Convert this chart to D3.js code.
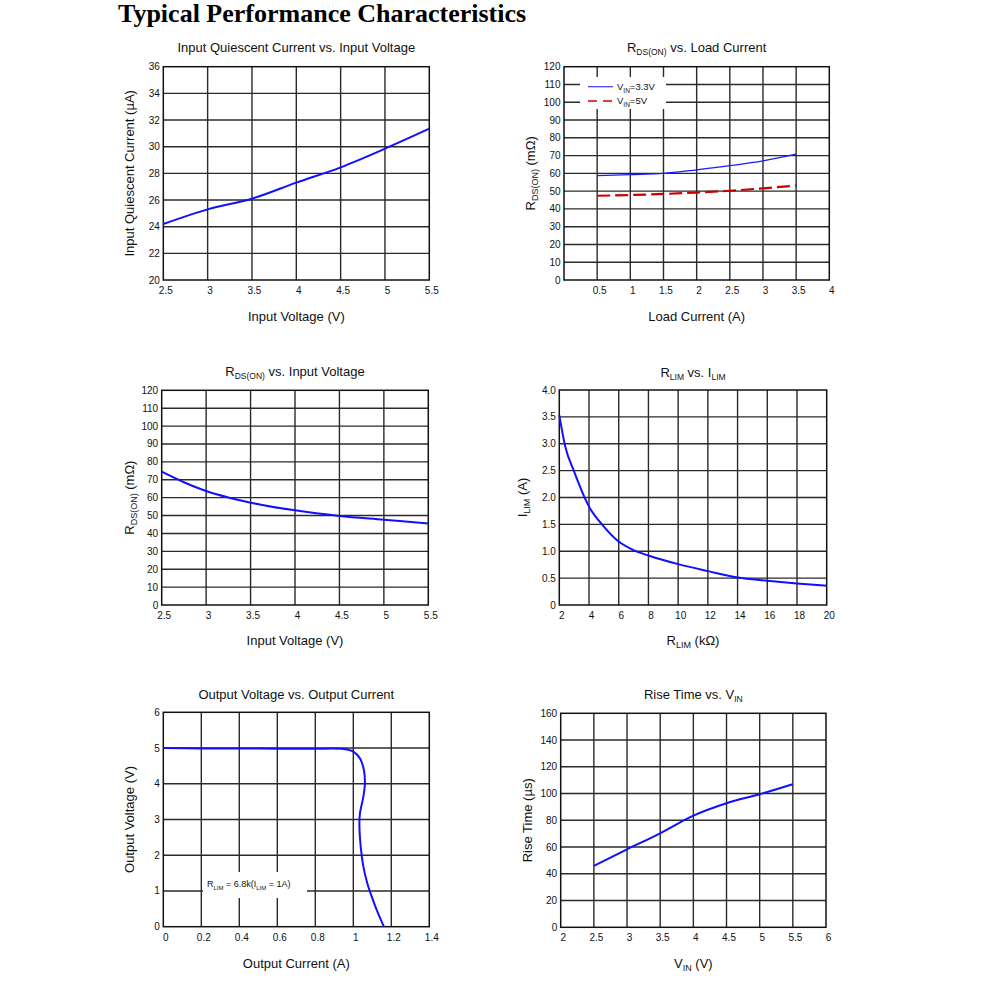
<!DOCTYPE html>
<html><head><meta charset="utf-8">
<script src="https://cdn.jsdelivr.net/npm/d3@7"></script>
<style>
body{margin:0;background:#fff}
svg{display:block}
text{font-family:"Liberation Sans",Arial,sans-serif;fill:#111}
</style>
</head><body>
<svg id="c" width="991" height="1006"></svg>
<script>
// ---------- data ----------
const iqVin = [2.5, 3, 3.5, 4, 4.5, 5, 5.5];
const iqCurrent = [24.2, 25.3, 26.1, 27.3, 28.45, 29.85, 31.35];
const iqXTicks = [2.5, 3, 3.5, 4, 4.5, 5, 5.5];
const iqYTicks = [20, 22, 24, 26, 28, 30, 32, 34, 36];

const loadCurrent = [0.5, 1, 1.5, 2, 2.5, 3, 3.5];
const rdsOn33V = [58.7, 59.3, 60, 62, 64.3, 67, 70.8];
const rdsOn5V = [47.4, 47.8, 48.4, 49.2, 50.2, 51.6, 53.1];
const loadXTicks = [0.5, 1, 1.5, 2, 2.5, 3, 3.5, 4];
const rdsYTicks = [0, 10, 20, 30, 40, 50, 60, 70, 80, 90, 100, 110, 120];

const rdsVin = [2.5, 2.75, 3, 3.25, 3.5, 4, 4.5, 5, 5.5];
const rdsVsVin = [74.5, 68.6, 63.7, 60.1, 57.2, 52.9, 49.8, 47.7, 45.6];
const vinXTicks = [2.5, 3, 3.5, 4, 4.5, 5, 5.5];

const rLim = [2, 2.4, 3, 4, 5, 6, 7, 8, 10, 12, 14, 16, 18, 20];
const iLim = [3.53, 2.95, 2.48, 1.83, 1.46, 1.18, 1.02, 0.92, 0.76, 0.63, 0.51, 0.45, 0.40, 0.36];
const rLimXTicks = [2, 4, 6, 8, 10, 12, 14, 16, 18, 20];
const iLimYTicks = [0, 0.5, 1, 1.5, 2, 2.5, 3, 3.5, 4];

const outCurrent = [0, 0.2, 0.4, 0.6, 0.8, 0.95, 1.0, 1.035, 1.056, 1.061, 1.053, 1.035, 1.032, 1.039, 1.053, 1.074, 1.097, 1.123, 1.161];
const outVoltage = [5.0, 4.99, 4.99, 4.98, 4.98, 4.97, 4.9, 4.71, 4.38, 4.01, 3.64, 3.17, 2.89, 2.24, 1.68, 1.21, 0.84, 0.47, 0.0];
const outXTicks = [0, 0.2, 0.4, 0.6, 0.8, 1, 1.2, 1.4];
const outYTicks = [0, 1, 2, 3, 4, 5, 6];

const riseVin = [2.5, 3, 3.5, 4, 4.5, 5, 5.5];
const riseTime = [45.9, 58.3, 70.3, 83.5, 92.8, 99.5, 107];
const riseXTicks = [2, 2.5, 3, 3.5, 4, 4.5, 5, 5.5, 6];
const riseYTicks = [0, 20, 40, 60, 80, 100, 120, 140, 160];

// ---------- drawing ----------
const svg = d3.select("#c");

svg.append("text")
  .attr("x", 118).attr("y", 22)
  .style("font-family", "'Liberation Serif','Times New Roman',serif")
  .style("font-weight", "bold").style("font-size", "26px")
  .style("fill", "#000")
  .text("Typical Performance Characteristics");

function rich(sel, parts, subSize) {
  parts.forEach((p, i) => {
    const prevSub = i > 0 && parts[i - 1][1];
    const t = sel.append("tspan").text(p[0]);
    if (p[1]) { t.attr("dy", 3).style("font-size", subSize + "px"); }
    else if (prevSub) { t.attr("dy", -3); }
  });
}

const fmtDefault = d => String(d);

function chart(cfg) {
  const g = svg.append("g");
  const x = d3.scaleLinear().domain(cfg.xd).range([cfg.l, cfg.r]);
  const y = d3.scaleLinear().domain(cfg.yd).range([cfg.b, cfg.t]);
  const fx = cfg.fx || fmtDefault, fy = cfg.fy || fmtDefault;

  // grid
  const gx = cfg.xt.filter(v => v > cfg.xd[0] && v < cfg.xd[1]);
  const gy = cfg.yt.filter(v => v > cfg.yd[0] && v < cfg.yd[1]);
  g.selectAll(".gx").data(gx).join("line")
    .attr("x1", d => x(d)).attr("x2", d => x(d)).attr("y1", cfg.t).attr("y2", cfg.b)
    .attr("stroke", "#2a2a2a").attr("stroke-width", 1.4);
  g.selectAll(".gy").data(gy).join("line")
    .attr("y1", d => y(d)).attr("y2", d => y(d)).attr("x1", cfg.l).attr("x2", cfg.r)
    .attr("stroke", "#2a2a2a").attr("stroke-width", 1.4);

  if (cfg.box) {
    g.append("rect").attr("x", cfg.box[0]).attr("y", cfg.box[1])
      .attr("width", cfg.box[2]).attr("height", cfg.box[3]).attr("fill", "#fff");
  }

  // frame
  g.append("rect").attr("x", cfg.l).attr("y", cfg.t)
    .attr("width", cfg.r - cfg.l).attr("height", cfg.b - cfg.t)
    .attr("fill", "none").attr("stroke", "#111").attr("stroke-width", 1.5);

  // tick labels
  g.selectAll(".tx").data(cfg.xt).join("text")
    .attr("x", d => x(d) + 2.5).attr("y", cfg.b + 10.5).attr("dy", "0.35em")
    .attr("text-anchor", "middle").style("font-size", "10px").text(fx);
  g.selectAll(".ty").data(cfg.yt).join("text")
    .attr("x", cfg.l - 3.5).attr("y", d => y(d)).attr("dy", "0.35em")
    .attr("text-anchor", "end").style("font-size", "10px").text(fy);

  // title
  const tt = g.append("text").attr("x", (cfg.l + cfg.r) / 2).attr("y", cfg.titleY + 4.5)
    .attr("text-anchor", "middle").style("font-size", "13px");
  rich(tt, cfg.title, 8.5);
  // x label
  const xl = g.append("text").attr("x", (cfg.l + cfg.r) / 2).attr("y", cfg.xlabelY + 4.6)
    .attr("text-anchor", "middle").style("font-size", "13px");
  rich(xl, cfg.xlabel, 9);
  // y label
  const cy = (cfg.t + cfg.b) / 2;
  const yl = g.append("text").attr("transform", `translate(${cfg.ylabelX + 4.6},${cy}) rotate(-90)`)
    .attr("text-anchor", "middle").style("font-size", "13px");
  rich(yl, cfg.ylabel, 9);

  // series
  cfg.series.forEach(s => {
    const line = d3.line().x((d, i) => x(s.xs[i])).y((d, i) => y(s.ys[i])).curve(s.curve || d3.curveMonotoneX);
    g.append("path").datum(s.ys).attr("d", line).attr("fill", "none")
      .attr("stroke", s.color).attr("stroke-width", s.width || 2)
      .attr("stroke-dasharray", s.dash || null);
  });
  return { g, x, y };
}

chart({
  l: 163.3, r: 429.3, t: 66.7, b: 280, xd: [2.5, 5.5], yd: [20, 36], xt: iqXTicks, yt: iqYTicks,
  titleY: 47.3, title: [["Input Quiescent Current vs. Input Voltage"]],
  xlabelY: 316, xlabel: [["Input Voltage (V)"]],
  ylabelX: 129, ylabel: [["Input Quiescent Current (µA)"]],
  series: [{ xs: iqVin, ys: iqCurrent, color: "#1010ff" }]
});

const c2 = chart({
  l: 564, r: 829.3, t: 66.7, b: 280, xd: [0, 4], yd: [0, 120], xt: loadXTicks, yt: rdsYTicks,
  titleY: 47.3, title: [["R"], ["DS(ON)", 1], [" vs. Load Current"]],
  xlabelY: 316, xlabel: [["Load Current (A)"]],
  ylabelX: 530, ylabel: [["R"], ["DS(ON)", 1], [" (mΩ)"]],
  box: [580, 77, 86, 32],
  series: [
    { xs: loadCurrent, ys: rdsOn33V, color: "#1a1aff", width: 1.3 },
    { xs: loadCurrent, ys: rdsOn5V, color: "#cc0000", width: 2.2, dash: "13,5" }
  ]
});
// legend
[{ c: "#3a3aff", w: 1.2, dash: null, y: 86.7, lab: "3.3V" }, { c: "#cc0000", w: 1.4, dash: "9,6", y: 101, lab: "5V" }]
  .forEach(L => {
    c2.g.append("line").attr("x1", 588).attr("x2", 613).attr("y1", L.y).attr("y2", L.y)
      .attr("stroke", L.c).attr("stroke-width", L.w).attr("stroke-dasharray", L.dash);
    const t = c2.g.append("text").attr("x", 617).attr("y", L.y + 3.3).style("font-size", "9.5px");
    rich(t, [["V"], ["IN", 1], ["=" + L.lab]], 6.5);
  });

chart({
  l: 161.7, r: 428.3, t: 390.3, b: 605, xd: [2.5, 5.5], yd: [0, 120], xt: vinXTicks, yt: rdsYTicks,
  titleY: 371, title: [["R"], ["DS(ON)", 1], [" vs. Input Voltage"]],
  xlabelY: 640.5, xlabel: [["Input Voltage (V)"]],
  ylabelX: 129, ylabel: [["R"], ["DS(ON)", 1], [" (mΩ)"]],
  series: [{ xs: rdsVin, ys: rdsVsVin, color: "#1010ff" }]
});

chart({
  l: 559.3, r: 826.7, t: 390, b: 605, xd: [2, 20], yd: [0, 4], xt: rLimXTicks, yt: iLimYTicks,
  fy: d => d === 0 ? "0" : d.toFixed(1),
  titleY: 372, title: [["R"], ["LIM", 1], [" vs. I"], ["LIM", 1]],
  xlabelY: 640, xlabel: [["R"], ["LIM", 1], [" (kΩ)"]],
  ylabelX: 522, ylabel: [["I"], ["LIM", 1], [" (A)"]],
  series: [{ xs: rLim, ys: iLim, color: "#1010ff" }]
});

const c5 = chart({
  l: 163.3, r: 429.3, t: 712.3, b: 926.7, xd: [0, 1.4], yd: [0, 6], xt: outXTicks, yt: outYTicks,
  titleY: 694, title: [["Output Voltage vs. Output Current"]],
  xlabelY: 963, xlabel: [["Output Current (A)"]],
  ylabelX: 129, ylabel: [["Output Voltage (V)"]],
  box: [203, 872, 104, 26],
  series: [{ xs: outCurrent, ys: outVoltage, color: "#1010ff", curve: d3.curveCatmullRom }]
});
const ann = c5.g.append("text").attr("x", 207).attr("y", 887.3).style("font-size", "9px");
rich(ann, [["R"], ["LIM", 1], [" = 6.8k(I"], ["LIM", 1], [" = 1A)"]], 6);

chart({
  l: 560.7, r: 826, t: 713.3, b: 927.3, xd: [2, 6], yd: [0, 160], xt: riseXTicks, yt: riseYTicks,
  titleY: 694, title: [["Rise Time vs. V"], ["IN", 1]],
  xlabelY: 963, xlabel: [["V"], ["IN", 1], [" (V)"]],
  ylabelX: 527, ylabel: [["Rise Time (µs)"]],
  series: [{ xs: riseVin, ys: riseTime, color: "#1010ff" }]
});
</script>
</body></html>
